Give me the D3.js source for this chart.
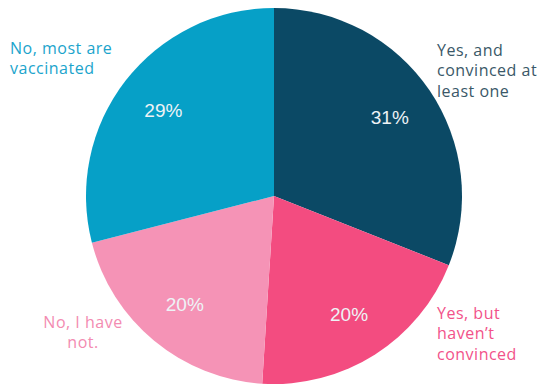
<!DOCTYPE html>
<html><head><meta charset="utf-8">
<script src="https://cdn.jsdelivr.net/npm/d3@7"></script>
<style>body{margin:0;background:#fff;}svg{display:block;}</style>
</head><body>
<script>
const categories = ["Yes, and convinced at least one", "Yes, but haven’t convinced", "No, I have not.", "No, most are vaccinated"];
const values = [31, 20, 20, 29];
const labelLines = [["Yes, and", "convinced at", "least one"], ["Yes, but", "haven’t", "convinced"], ["No, I have", "not."], ["No, most are", "vaccinated"]];
const colors = ["#0b4965", "#f34c80", "#f593b6", "#06a0c7"];
const textColors = ["#3a5868", "#f2528a", "#f38bb1", "#1ba4cc"];

const W = 549, H = 386, cx = 274, cy = 196, R = 188;
// label placement (layout only)
const labelLayout = [
  {x: 437, y: 50, anchor: "start"},
  {x: 437, y: 313, anchor: "start"},
  {x: 83, y: 322, anchor: "middle"},
  {x: 10, y: 48, anchor: "start"}
];

const svg = d3.select("body").append("svg").attr("width", W).attr("height", H);
const g = svg.append("g").attr("transform", `translate(${cx},${cy})`);
const pie = d3.pie().sort(null).value(d => d.v);
const data = pie(values.map((v, i) => ({v, i})));
const arc = d3.arc().innerRadius(0).outerRadius(R);
const labelArc = d3.arc().innerRadius(140).outerRadius(140);

g.selectAll("path").data(data).join("path")
  .attr("d", arc).attr("fill", d => colors[d.data.i]);

g.selectAll("text.pct").data(data).join("text")
  .attr("class", "pct")
  .attr("transform", d => `translate(${labelArc.centroid(d)})`)
  .attr("text-anchor", "middle").attr("dy", "0.36em")
  .attr("font-family", "Liberation Sans, Arial, sans-serif")
  .attr("font-size", 19).attr("fill", "#eef3f6")
  .text(d => d.data.v + "%");

const lg = svg.append("g");
categories.forEach((c, i) => {
  const L = labelLayout[i];
  const t = lg.append("text")
    .attr("x", L.x).attr("y", L.y)
    .attr("text-anchor", L.anchor)
    .attr("font-family", "Open Sans, sans-serif")
    .attr("font-size", 16)
    .attr("letter-spacing", 0.5)
    .attr("fill", textColors[i]);
  labelLines[i].forEach((line, j) => {
    t.append("tspan").attr("x", L.x).attr("y", L.y + j * 20.5).attr("dy", "0.36em").text(line);
  });
});
</script>
</body></html>
